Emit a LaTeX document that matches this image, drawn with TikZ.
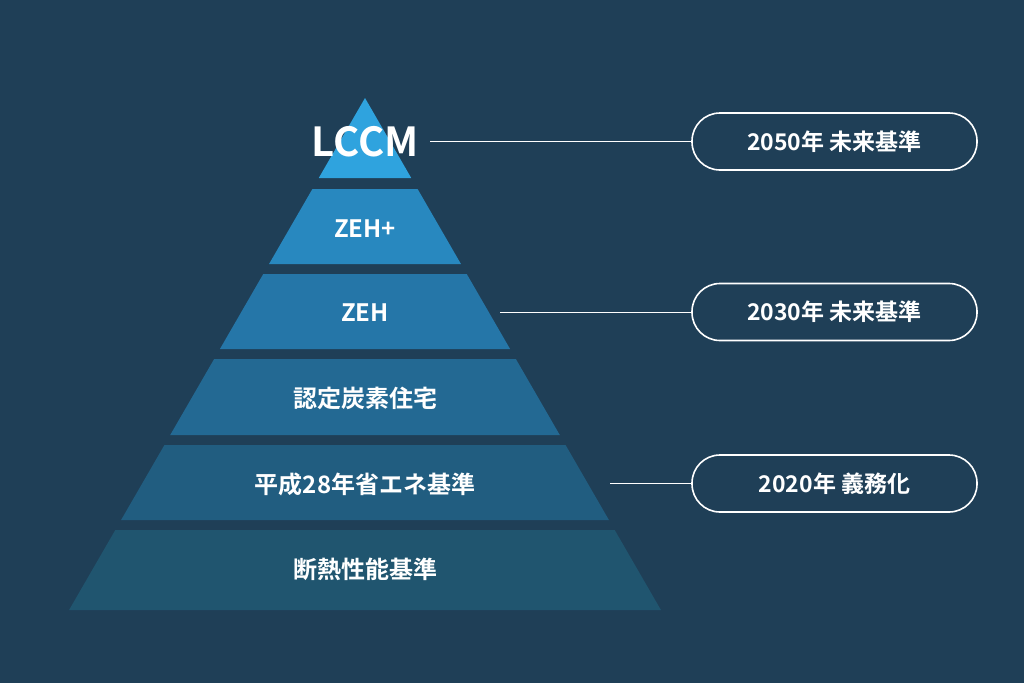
\documentclass[tikz,border=0pt]{standalone}
\usepackage{fontspec}
\newfontfamily\jp{Noto Sans CJK JP}[BoldFont={* Bold}]
\definecolor{bg}{HTML}{1F3F57}
\definecolor{c1}{HTML}{2FA3DE}
\definecolor{c2}{HTML}{2888BF}
\definecolor{c3}{HTML}{2576A8}
\definecolor{c4}{HTML}{236993}
\definecolor{c5}{HTML}{215D80}
\definecolor{c6}{HTML}{20556F}
\begin{document}
\begin{tikzpicture}[x=1pt,y=-1pt,
  lbl/.style={font=\jp\bfseries\fontsize{24}{26}\selectfont,text=white},
  pill/.style={draw=white,line width=1.6pt,rounded corners=28pt,minimum width=285pt,minimum height=57pt,font=\jp\bfseries\fontsize{23}{25}\selectfont,text=white},
  conn/.style={draw=white,line width=1pt}]
\fill[bg] (0,0) rectangle (1024,683);
\useasboundingbox (0,0) rectangle (1024,683);
\def\s{0.578}
\fill[c1] (365,98) -- ({365+80*\s},178) -- ({365-80*\s},178) -- cycle;
\foreach \ya/\yb/\c in {189/264/c2,274/349/c3,359/435/c4,445/520/c5,530/610/c6}{
  \fill[\c] ({365-(\ya-98)*\s},\ya) -- ({365+(\ya-98)*\s},\ya) -- ({365+(\yb-98)*\s},\yb) -- ({365-(\yb-98)*\s},\yb) -- cycle;}
\node[lbl,font=\jp\bfseries\fontsize{40}{42}\selectfont] (l1) at (365,142) {LCCM};
\node[lbl] (l2) at (365,229) {ZEH+};
\node[lbl] (l3) at (365,313) {ZEH};
\node[lbl] (l4) at (365,398) {認定炭素住宅};
\node[lbl] (l5) at (365,484) {平成28年省エネ基準};
\node[lbl] (l6) at (365,569) {断熱性能基準};
\node[pill] (p1) at (834.5,141.5) {2050年 未来基準};
\node[pill] (p2) at (834.5,312) {2030年 未来基準};
\node[pill] (p3) at (834.5,483.5) {2020年 義務化};
\coordinate (a1) at (430,141.5);
\coordinate (a2) at (500,312);
\coordinate (a3) at (610,483.5);
\draw[conn] (a1) -- (p1.west);
\draw[conn] (a2) -- (p2.west);
\draw[conn] (a3) -- (p3.west);
\end{tikzpicture}
\end{document}
